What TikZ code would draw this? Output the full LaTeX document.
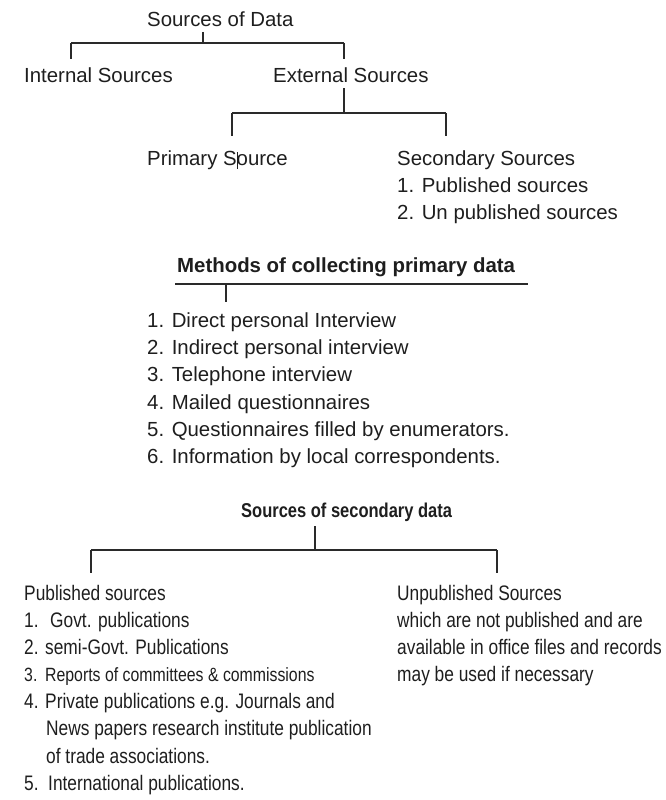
\documentclass[tikz,border=0pt]{standalone}
\usepackage{fontspec}
\setmainfont{Liberation Sans}
\newfontfamily\narrowfont[FakeStretch=0.825]{Liberation Sans}
\definecolor{ink}{HTML}{1E1E1E}
\definecolor{linec}{HTML}{2A2A2A}
\tikzset{
  lbl/.style={inner sep=0pt, anchor=base west, text=ink, font=\fontsize{20.4}{24}\selectfont},
  hdr/.style={inner sep=0pt, anchor=base west, text=ink, font=\fontsize{20.4}{24}\selectfont\bfseries},
  nlbl/.style={inner sep=0pt, anchor=base west, text=ink, font=\narrowfont\fontsize{21}{25}\selectfont},
  nsmall/.style={inner sep=0pt, anchor=base west, text=ink, font=\narrowfont\fontsize{19.2}{23}\selectfont},
  nhdr/.style={inner sep=0pt, anchor=base west, text=ink, font=\narrowfont\bfseries\fontsize{20}{24}\selectfont},
  tree/.style={draw=linec, line width=1.2pt},
  cursorline/.style={draw=ink, line width=0.9pt}
}
\begin{document}
\begin{tikzpicture}[x=1pt, y=-1pt]
\useasboundingbox (0,0) rectangle (666,800);
% ---------- top tree ----------
\node[lbl] (src) at (147,27) {Sources of Data};
\node[lbl] (int) at (24,82) {Internal Sources};
\node[lbl] (ext) at (273,82) {External Sources};
\node[lbl] (pri) at (147,165) {Primary Source};
\node[lbl] (sec) at (397,165) {Secondary Sources};
\node[lbl] (sec1) at (397,192) {1. Published sources};
\node[lbl] (sec2) at (397,219) {2. Un published sources};

\coordinate (a0) at (203,32);
\coordinate (a1) at (203,43);
\coordinate (aL) at (71,43);
\coordinate (aR) at (344,43);
\coordinate (aLd) at (71,59);
\coordinate (aRd) at (344,59);
\draw[tree] (a0) -- (a1);
\draw[tree] (aL) -- (aR);
\draw[tree] (aL) -- (aLd);
\draw[tree] (aR) -- (aRd);

\coordinate (b0) at (344,88);
\coordinate (b1) at (344,113);
\coordinate (bL) at (232,113);
\coordinate (bR) at (446,113);
\coordinate (bLd) at (232,136);
\coordinate (bRd) at (446,136);
\draw[tree] (b0) -- (b1);
\draw[tree] (bL) -- (bR);
\draw[tree] (bL) -- (bLd);
\draw[tree] (bR) -- (bRd);

% text cursor inside "Primary Source"
\coordinate (cu0) at (237,152);
\coordinate (cu1) at (237,169);
\draw[cursorline] (cu0) -- (cu1);

% ---------- methods of collecting primary data ----------
\node[hdr] (meth) at (177,272) {Methods of collecting primary data};
\coordinate (mL) at (175,284);
\coordinate (mR) at (528,284);
\coordinate (m0) at (226,284);
\coordinate (m1) at (226,302);
\draw[tree] (mL) -- (mR);
\draw[tree] (m0) -- (m1);

\node[lbl] (p1) at (147,327) {1. Direct personal Interview};
\node[lbl] (p2) at (147,354) {2. Indirect personal interview};
\node[lbl] (p3) at (147,381) {3. Telephone interview};
\node[lbl] (p4) at (147,409) {4. Mailed questionnaires};
\node[lbl] (p5) at (147,436) {5. Questionnaires filled by enumerators.};
\node[lbl] (p6) at (147,463) {6. Information by local correspondents.};

% ---------- sources of secondary data ----------
\node[nhdr] (ssd) at (241,517) {Sources of secondary data};
\coordinate (c0) at (315,526);
\coordinate (c1) at (315,550);
\coordinate (cL) at (91,550);
\coordinate (cR) at (497,550);
\coordinate (cLd) at (91,573);
\coordinate (cRd) at (497,573);
\draw[tree] (c0) -- (c1);
\draw[tree] (cL) -- (cR);
\draw[tree] (cL) -- (cLd);
\draw[tree] (cR) -- (cRd);

\node[nlbl] (pub) at (24,600) {Published sources};
\node[nlbl] (pub1) at (24,627) {\makebox[26pt][l]{1.}Govt. publications};
\node[nlbl] (pub2) at (24,654) {\makebox[21pt][l]{2.}semi-Govt. Publications};
\node[nsmall] (pub3) at (24,681) {\makebox[21pt][l]{3.}Reports of committees \& commissions};
\node[nlbl] (pub4) at (24,708) {\makebox[21pt][l]{4.}Private publications e.g. Journals and};
\node[nlbl] (pub4b) at (46,735) {News papers research institute publication};
\node[nlbl] (pub4c) at (46,763) {of trade associations.};
\node[nlbl] (pub5) at (24,790) {\makebox[24pt][l]{5.}International publications.};

\node[nlbl] (unp) at (397,600) {Unpublished Sources};
\node[nlbl] (unp1) at (397,627) {which are not published and are};
\node[nlbl] (unp2) at (397,654) {available in office files and records};
\node[nlbl] (unp3) at (397,681) {may be used if necessary};
\end{tikzpicture}
\end{document}
